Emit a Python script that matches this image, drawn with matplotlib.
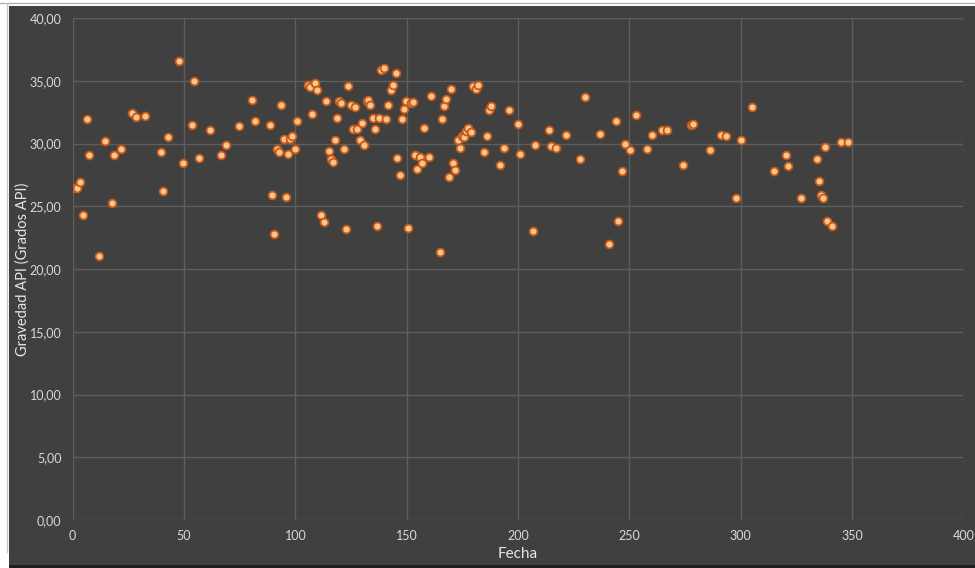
import matplotlib
matplotlib.use("Agg")
import matplotlib.pyplot as plt
from matplotlib.patches import Rectangle
from matplotlib.ticker import FuncFormatter

# valores
fecha = [0.6, 1.8, 3.4, 4.6, 6.6, 7.5, 11.7, 14.6, 17.5, 18.5, 21.5, 26.6, 28.6, 32.5,
         39.8, 40.5, 42.6, 47.6, 49.5, 53.6, 54.6, 56.7, 61.5, 66.7, 68.7, 74.5, 80.6,
         81.7, 88.7, 89.5, 90.5, 91.6, 92.6, 93.7, 94.7, 95.6, 96.7, 97.7, 98.6, 99.7,
         100.7, 105.7, 106.6, 107.6, 108.7, 109.7, 111.6, 112.7, 113.7, 114.9, 115.9,
         116.7, 117.9, 118.7, 119.7, 120.6, 121.7, 122.7, 123.8, 124.8, 125.9, 126.8,
         127.8, 128.9, 129.9, 131.0, 132.0, 132.7, 133.6, 134.7, 135.7, 136.8, 137.7,
         138.6, 139.8, 140.8, 141.7, 142.8, 143.8, 145.0, 145.8, 146.8, 147.7, 148.8,
         149.8, 150.7, 151.9, 152.9, 153.8, 154.7, 155.8, 156.8, 157.9, 159.9, 160.9,
         164.8, 165.8, 166.7, 167.8, 168.8, 169.9, 170.9, 171.8, 172.9, 173.9, 174.7,
         175.7, 176.6, 177.6, 178.7, 179.9, 181.0, 181.9, 184.8, 185.9, 186.9, 187.8,
         191.7, 193.8, 195.8, 199.8, 200.7, 206.8, 207.7, 213.9, 214.9, 216.9, 221.6,
         228.0, 229.9, 236.7, 240.9, 243.9, 245.0, 246.9, 248.1, 250.5, 252.8, 258.0,
         260.0, 264.7, 266.8, 274.0, 277.9, 278.7, 286.4, 291.1, 293.2, 298.0, 300.0,
         305.2, 314.9, 320.2, 321.2, 326.9, 334.1, 335.1, 336.0, 336.9, 337.9, 339.0,
         341.1, 345.0, 348.2]
gravedad = [26.45, 26.45, 26.96, 24.33, 31.98, 29.08, 21.04, 30.17, 25.23, 29.08, 29.59,
            32.40, 32.09, 32.17, 29.35, 26.24, 30.49, 36.60, 28.45, 31.47, 35.00, 28.84,
            31.08, 29.08, 29.85, 31.39, 33.47, 31.77, 31.47, 25.87, 22.76, 29.59, 29.35,
            33.07, 30.36, 25.74, 29.19, 30.36, 30.57, 29.59, 31.77, 34.69, 34.48, 32.37,
            34.80, 34.29, 24.33, 23.77, 33.39, 29.43, 28.74, 28.53, 30.25, 32.06, 33.39,
            33.20, 29.59, 23.16, 34.58, 33.04, 31.18, 32.88, 31.18, 30.25, 31.66, 29.85,
            33.41, 33.47, 33.04, 32.06, 31.16, 23.43, 32.06, 35.88, 36.02, 31.98, 33.04,
            34.26, 34.69, 35.62, 28.84, 27.47, 31.98, 32.77, 33.39, 23.24, 33.20, 33.31,
            29.08, 27.94, 28.95, 28.45, 31.26, 28.95, 33.78, 21.33, 31.98, 32.96, 33.55,
            27.36, 34.37, 28.45, 27.86, 30.25, 29.67, 30.60, 30.49, 30.97, 31.26, 30.89,
            34.58, 34.37, 34.69, 29.35, 30.57, 32.65, 32.96, 28.26, 29.67, 32.67, 31.58,
            29.19, 23.03, 29.85, 31.08, 29.78, 29.67, 30.68, 28.76, 33.68, 30.76, 21.97,
            31.77, 23.85, 27.79, 29.99, 29.46, 32.30, 29.59, 30.68, 31.08, 31.08, 28.26,
            31.47, 31.55, 29.46, 30.68, 30.57, 25.63, 30.25, 32.88, 27.79, 29.08, 28.18,
            25.63, 28.76, 27.04, 25.87, 25.63, 29.75, 23.85, 23.43, 30.10, 30.10]

x_ticks = [0, 50, 100, 150, 200, 250, 300, 350, 400]
y_ticks = [0, 5, 10, 15, 20, 25, 30, 35, 40]

plt.rcParams["font.family"] = ["Lato", "DejaVu Sans"]

fig = plt.figure(figsize=(9.75, 5.68), dpi=100, facecolor="#404040")

# bordes de la captura (blanco arriba/izquierda, oscuro abajo)
fig.patches.append(Rectangle((0, 1 - 6 / 568), 1, 6 / 568, transform=fig.transFigure,
                             facecolor="white", edgecolor="none"))
fig.patches.append(Rectangle((0, 0), 9 / 975, 1, transform=fig.transFigure,
                             facecolor="white", edgecolor="none"))
fig.patches.append(Rectangle((9 / 975, 0), 1, 3 / 568, transform=fig.transFigure,
                             facecolor="#1e1e1e", edgecolor="none"))
fig.lines.append(plt.Line2D([0, 1], [1 - 3 / 568, 1 - 3 / 568], transform=fig.transFigure,
                            color="#b0b0b0", lw=1))
fig.lines.append(plt.Line2D([7 / 975, 7 / 975], [16 / 568, 1 - 3 / 568], transform=fig.transFigure,
                            color="#c8c8c8", lw=1))

ax = fig.add_axes([72.7 / 975, 1 - 520 / 568, (963.3 - 72.7) / 975, (520 - 18) / 568])
ax.set_facecolor("#404040")

ax.scatter(fecha, gravedad, s=32, color="#ffc48a", edgecolors="#c05a1c",
           linewidths=1.3, zorder=3)

ax.set_xlim(0, 400)
ax.set_ylim(0, 40)
ax.set_xticks(x_ticks)
ax.set_yticks(y_ticks)
ax.yaxis.set_major_formatter(FuncFormatter(lambda v, p: f"{v:.2f}".replace(".", ",")))
ax.grid(True, color="#5e5e5e", linewidth=1)
ax.set_axisbelow(True)
for s in ax.spines.values():
    s.set_visible(False)
ax.tick_params(length=0, colors="#d9d9d9", labelsize=9)
ax.tick_params(axis="y", pad=8)
ax.tick_params(axis="x", pad=7)

ax.set_xlabel("Fecha", color="#e6e6e6", fontsize=11, labelpad=4)
ax.set_ylabel("Gravedad API (Grados API)", color="#e6e6e6", fontsize=10.5)
ax.yaxis.set_label_coords(-0.048, 0.5)

fig.savefig("out.png", dpi=100, facecolor=fig.get_facecolor())
